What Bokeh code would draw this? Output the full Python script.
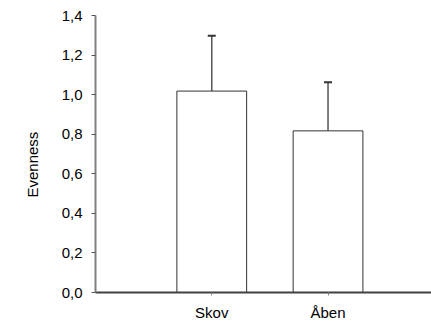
from bokeh.plotting import figure
from bokeh.models import FixedTicker, Range1d, Whisker, TeeHead, ColumnDataSource, Title
from bokeh.embed import file_html
from bokeh.resources import INLINE

# data
categories = ["Skov", "Åben"]
means = [1.018, 0.817]
errors = [0.28, 0.246]
y_ticks = [0.0, 0.2, 0.4, 0.6, 0.8, 1.0, 1.2, 1.4]
y_tick_labels = ["0,0", "0,2", "0,4", "0,6", "0,8", "1,0", "1,2", "1,4"]
y_label = "Evenness"

xs = list(range(1, len(categories) + 1))
src = ColumnDataSource(dict(
    x=xs, top=means,
    upper=[m + e for m, e in zip(means, errors)],
))

FONT = "Liberation Sans"
FS = "15px"

p = figure(width=431, height=329, output_backend="svg", toolbar_location=None,
           x_range=Range1d(0, 2.89), y_range=Range1d(0, 1.4),
           min_border_left=95, min_border_right=0, min_border_top=15,
           min_border_bottom=37)
p.outline_line_color = None
p.grid.visible = False
p.background_fill_color = "white"
p.border_fill_color = "white"

p.vbar(x="x", top="top", width=0.6, bottom=0, source=src,
       fill_color="white", line_color="#333333", line_width=1)

w = Whisker(base="x", upper="upper", lower="top", source=src, dimension="height",
            line_color="#555555", line_width=1.5,
            upper_head=TeeHead(size=8, line_width=2, line_color="#333333"),
            lower_head=None)
p.add_layout(w)

# y axis label as a side title, positioned a little below the frame middle
t = Title(text=y_label, align="left", offset=95, text_font=FONT,
          text_font_size=FS, text_font_style="normal", text_color="black",
          standoff=36)
p.add_layout(t, "left")

# y axis
ya = p.yaxis[0]
ya.ticker = FixedTicker(ticks=y_ticks)
ya.major_label_overrides = {t: l for t, l in zip(y_ticks, y_tick_labels)}
ya.major_label_text_font = FONT
ya.major_label_text_font_size = FS
ya.major_label_text_color = "black"
ya.major_label_standoff = 9
ya.major_tick_out = 4
ya.major_tick_in = 0
ya.minor_tick_out = 0
ya.minor_tick_in = 0
ya.axis_line_color = "#808080"
ya.axis_line_width = 2
ya.major_tick_line_color = "#555555"

# x axis
xa = p.xaxis[0]
xa.ticker = FixedTicker(ticks=xs)
xa.major_label_overrides = {x: c for x, c in zip(xs, categories)}
xa.major_label_text_font = FONT
xa.major_label_text_font_size = FS
xa.major_label_text_color = "black"
xa.major_label_standoff = 8
xa.major_tick_out = 3
xa.major_tick_in = 0
xa.minor_tick_out = 0
xa.minor_tick_in = 0
xa.axis_line_color = "#404040"
xa.axis_line_width = 2
xa.major_tick_line_color = "#808080"

open("out.html", "w").write(file_html(p, INLINE))
